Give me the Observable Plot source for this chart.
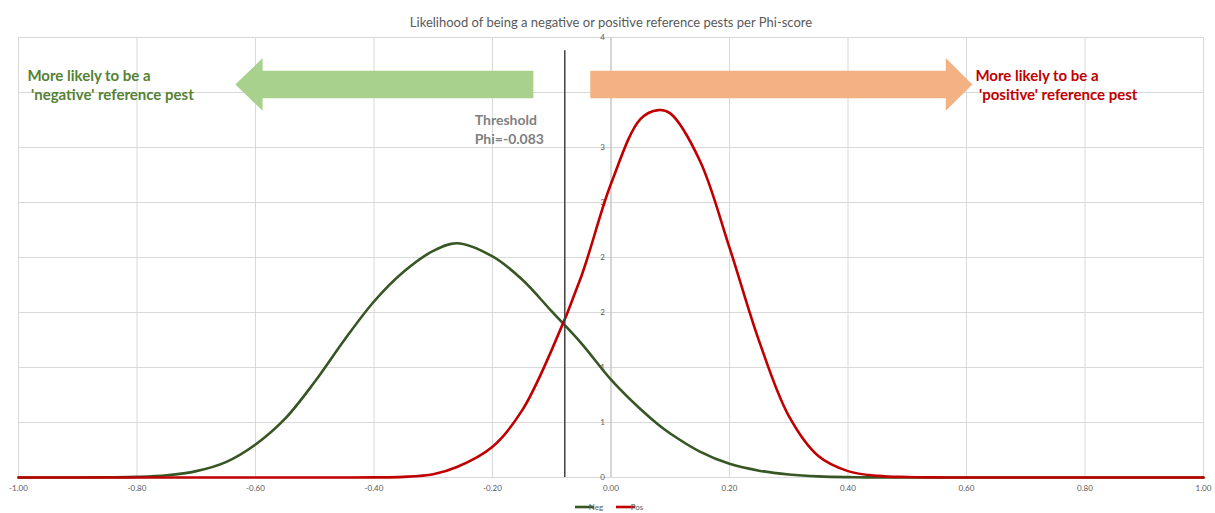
<!DOCTYPE html>
<html>
<head>
<meta charset="utf-8">
<script src="https://cdn.jsdelivr.net/npm/d3@7"></script>
<script src="https://cdn.jsdelivr.net/npm/@observablehq/plot@0.6"></script>
<style>
  html, body { margin: 0; padding: 0; background: #fff; overflow: hidden; }
  #chart { width: 1215px; height: 513px; }
</style>
</head>
<body>
<div id="chart"></div>
<script>
// ---- data ----
const phi = [-1.00,-0.95,-0.90,-0.85,-0.80,-0.75,-0.70,-0.65,-0.60,-0.55,-0.50,-0.45,-0.40,-0.35,-0.30,-0.26,-0.20,-0.15,-0.10,-0.05,0.00,0.05,0.08,0.10,0.15,0.20,0.25,0.30,0.35,0.40,0.45,0.50,0.55,0.60,0.70,0.80,0.90,1.00];
const neg = [0,0,0,0.002,0.006,0.02,0.058,0.14,0.30,0.535,0.87,1.25,1.60,1.87,2.06,2.13,2.01,1.80,1.51,1.22,0.89,0.62,0.48,0.40,0.235,0.124,0.062,0.028,0.01,0.003,0.001,0,0,0,0,0,0,0];
const pos = [0,0,0,0,0,0,0,0,0,0,0,0,0.001,0.006,0.03,0.095,0.28,0.61,1.16,1.83,2.67,3.26,3.34,3.31,2.88,2.09,1.24,0.56,0.195,0.058,0.015,0.004,0.001,0,0,0,0,0];
const seriesNames = ["Neg", "Pos"];
const seriesColors = ["#375623", "#c00000"];

const threshold = -0.078;
const thresholdTop = 3.88;

const xTickValues = [-1,-0.8,-0.6,-0.4,-0.2,0,0.2,0.4,0.6,0.8,1];
const xTickLabels = ["-1.00","-0.80","-0.60","-0.40","-0.20","0.00","0.20","0.40","0.60","0.80","1.00"];
const yTickValues = [0,0.5,1,1.5,2,2.5,3,3.5,4];
const yTickLabels = ["0","1","1","2","2","3","3","4","4"];

const titleText = "Likelihood of being a negative or positive reference pests per Phi-score";
const negNote = "More likely to be a\n\u00a0'negative' reference pest";
const posNote = "More likely to be a\n\u00a0'positive' reference pest";
const thresholdNote = "Threshold\nPhi=-0.083";

// arrows (data units): tail x, head base x, tip x, centre y
const arrows = [
  {tail: -0.131, base: -0.588, tip: -0.634, y: 3.573, fill: "#a9d18e"},
  {tail: -0.035, base: 0.565, tip: 0.610, y: 3.573, fill: "#f4b183"}
];
const bodyHalf = 0.125, headHalf = 0.24;

// ---- build tables ----
const rows = [];
phi.forEach((p, i) => {
  rows.push({phi: p, v: neg[i], s: seriesNames[0]});
});
phi.forEach((p, i) => {
  rows.push({phi: p, v: pos[i], s: seriesNames[1]});
});
const arrowPts = [];
arrows.forEach((a, k) => {
  const pts = [
    [a.tail, a.y + bodyHalf], [a.base, a.y + bodyHalf], [a.base, a.y + headHalf],
    [a.tip, a.y], [a.base, a.y - headHalf], [a.base, a.y - bodyHalf],
    [a.tail, a.y - bodyHalf], [a.tail, a.y + bodyHalf]
  ];
  pts.forEach(([x, y]) => arrowPts.push({x, y, k, fill: a.fill}));
});

const font = "Lato, 'Open Sans', sans-serif";

const chart = Plot.plot({
  width: 1215,
  height: 513,
  marginLeft: 18,
  marginRight: 12,
  marginTop: 37,
  marginBottom: 36,
  style: {fontFamily: font, background: "#fff"},
  x: {domain: [-1, 1], axis: null},
  y: {domain: [0, 4], axis: null},
  marks: [
    Plot.ruleX(xTickValues, {stroke: "#d9d9d9", strokeWidth: 1}),
    Plot.ruleY(yTickValues, {stroke: "#d9d9d9", strokeWidth: 1}),
    Plot.ruleX([0], {stroke: "#bfbfbf", strokeWidth: 1}),
    Plot.text(yTickValues, {x: 0, y: d => d, text: (d, i) => yTickLabels[i], textAnchor: "end", dx: -6, fontSize: 8, fill: "#595959"}),
    Plot.text(xTickValues, {x: d => d, frameAnchor: "bottom", dy: 13, text: (d, i) => xTickLabels[i], fontSize: 8, fill: "#595959"}),
    Plot.line(arrowPts, {x: "x", y: "y", z: "k", fill: "fill", stroke: "none", curve: "linear"}),
    Plot.line(rows, {x: "phi", y: "v", z: "s", stroke: d => seriesColors[seriesNames.indexOf(d.s)], strokeWidth: 2.6, curve: "catmull-rom"}),
    Plot.ruleX([threshold], {y1: 0, y2: thresholdTop, stroke: "#404040", strokeWidth: 1.5}),
    Plot.text([titleText], {frameAnchor: "top", dy: -20, fontSize: 13, fill: "#595959"}),
    Plot.text([negNote], {x: -0.985, y: 3.72, textAnchor: "start", lineAnchor: "top", fontSize: 15, fontWeight: "bold", fill: "#548235", lineHeight: 1.22}),
    Plot.text([posNote], {x: 0.615, y: 3.72, textAnchor: "start", lineAnchor: "top", fontSize: 15, fontWeight: "bold", fill: "#c00000", lineHeight: 1.22}),
    Plot.text([thresholdNote], {x: -0.230, y: 3.33, textAnchor: "start", lineAnchor: "top", fontSize: 14, fontWeight: "bold", fill: "#808080", lineHeight: 1.35})
  ]
});

// legend (line swatches) below the plot
const svg = d3.select(chart);
const lg = svg.append("g").attr("font-family", font).attr("font-size", 8).attr("fill", "#595959");
const legendX = [575, 616];
seriesNames.forEach((name, i) => {
  lg.append("line").attr("x1", legendX[i]).attr("x2", legendX[i] + 19).attr("y1", 507).attr("y2", 507)
    .attr("stroke", seriesColors[i]).attr("stroke-width", 2.6);
  lg.append("text").attr("x", legendX[i] + 21).attr("y", 507).attr("dy", "0.32em").text(name);
});

document.getElementById("chart").appendChild(chart);
</script>
</body>
</html>
